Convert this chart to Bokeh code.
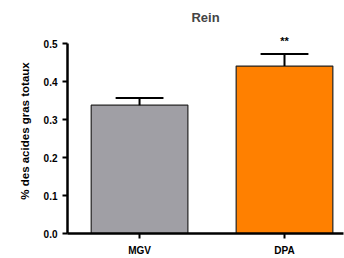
from bokeh.plotting import figure
from bokeh.models import FixedTicker, Range1d
from bokeh.core.properties import value
from bokeh.embed import file_html
from bokeh.resources import INLINE

# data
categories = ["MGV", "DPA"]
means = [0.338, 0.441]
errors = [0.019, 0.032]
significance = ["", "**"]
colors = ["#A09FA5", "#FF8000"]
y_ticks = [0.0, 0.1, 0.2, 0.3, 0.4, 0.5]
y_tick_labels = ["0.0", "0.1", "0.2", "0.3", "0.4", "0.5"]

xs = [i + 1 for i in range(len(categories))]
tops = [m + e for m, e in zip(means, errors)]

FONT = "Liberation Sans"

p = figure(width=344, height=258, output_backend="svg", toolbar_location=None,
           x_range=Range1d(0.503, 2.407), y_range=Range1d(0, 0.54),
           min_border_left=67, min_border_right=1, min_border_top=28, min_border_bottom=21)
p.title.text = "Rein"
p.title.align = "center"
p.title.text_font = FONT
p.title.text_font_size = "13px"
p.title.text_font_style = "bold"
p.title.standoff = 8

p.outline_line_color = None
p.grid.visible = False
p.background_fill_color = "white"
p.border_fill_color = "white"

p.vbar(x=xs, top=means, width=0.667, bottom=0, fill_color=colors,
       line_color="#222222", line_width=1.2)

# error bars (upper only)
p.segment(x0=xs, y0=means, x1=xs, y1=tops, line_color="black", line_width=2)
p.segment(x0=[x - 0.165 for x in xs], y0=tops, x1=[x + 0.165 for x in xs], y1=tops,
          line_color="black", line_width=2)

sig_x = [x for x, s in zip(xs, significance) if s]
sig_y = [t for t, s in zip(tops, significance) if s]
sig_t = [s for s in significance if s]
p.text(x=sig_x, y=sig_y, text=sig_t, text_align="center", text_baseline="alphabetic",
       y_offset=-13, text_font=value(FONT), text_font_size="11px",
       text_font_style="bold", text_color="black")

# axes
p.yaxis.ticker = FixedTicker(ticks=y_ticks)
p.yaxis.bounds = (y_ticks[0], y_ticks[-1])
p.yaxis.major_label_overrides = {t: l for t, l in zip(y_ticks, y_tick_labels)}
p.xaxis.ticker = FixedTicker(ticks=xs)
p.xaxis.major_label_overrides = {x: c for x, c in zip(xs, categories)}
p.yaxis.axis_label = "% des acides gras totaux"

for ax in (p.xaxis, p.yaxis):
    ax.axis_line_color = "black"
    ax.axis_line_width = 2.5
    ax.major_tick_line_color = "black"
    ax.major_tick_line_width = 2
    ax.major_tick_in = 0
    ax.major_tick_out = 5
    ax.minor_tick_line_color = None
    ax.major_label_text_font = FONT
    ax.major_label_text_font_style = "bold"
    ax.major_label_text_color = "black"

p.yaxis.major_label_text_font_size = "10px"
p.xaxis.major_label_text_font_size = "10px"
p.xaxis.major_label_standoff = 6
p.yaxis.major_label_standoff = 5
p.yaxis.axis_label_text_font = FONT
p.yaxis.axis_label_text_font_size = "11.5px"
p.yaxis.axis_label_text_font_style = "bold"
p.yaxis.axis_label_text_color = "black"
p.yaxis.axis_label_standoff = 10

open("out.html", "w").write(file_html(p, INLINE))
